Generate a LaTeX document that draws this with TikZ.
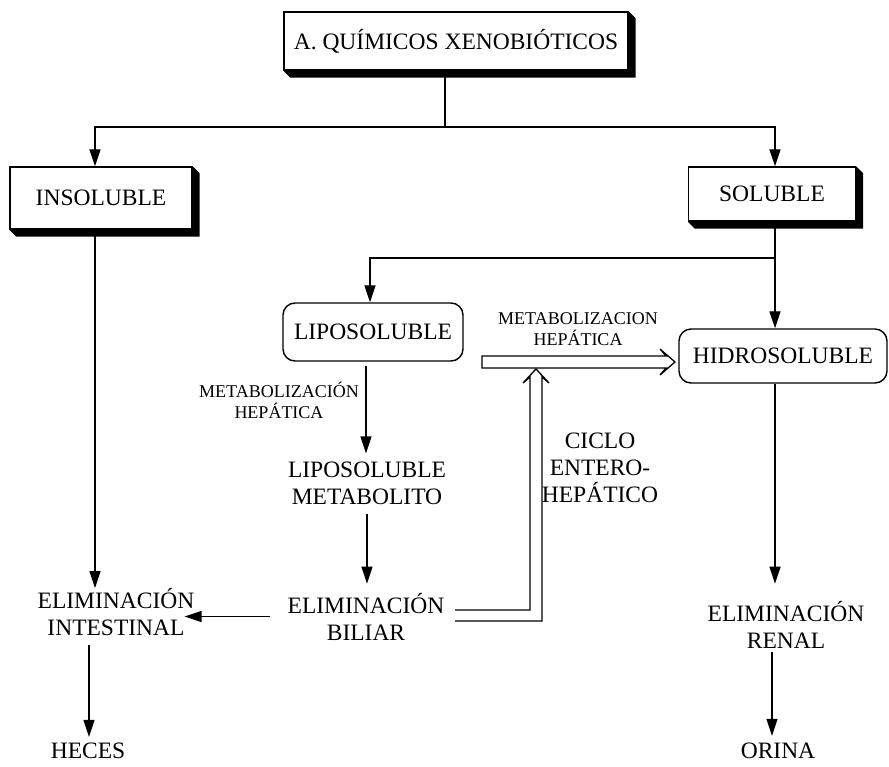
\documentclass[tikz,border=0pt]{standalone}
\usepackage{fontspec}
\setmainfont{Liberation Serif}
\usetikzlibrary{arrows.meta,calc}
\begin{document}
\begin{tikzpicture}[x=1pt,y=-1pt,
  big/.style={font=\fontsize{23.5}{27}\selectfont},
  small/.style={font=\fontsize{18}{20.5}\selectfont},
  txt/.style={big,align=center,inner sep=0pt},
  lbl/.style={small,align=center,inner sep=0pt},
  sbox/.style={draw,line width=1.4pt,fill=white,big,inner sep=0pt},
  rbox/.style={draw,line width=1.4pt,rounded corners=12pt,big,inner sep=0pt},
  plain/.style={line width=1.3pt},
  conn/.style={line width=1.3pt,-{Triangle[length=17pt,width=11pt]}},
  hollow/.style={line width=1.3pt,fill=white,line join=miter},
]
\useasboundingbox (0,0) rectangle (889,766);

% black drop shadow on the lower right of a box
\newcommand\boxshadow[1]{%
  \fill (#1.south west) -- ++(7,7) -- ($(#1.south east)+(7,7)$)
     -- ($(#1.north east)+(7,7)$) -- (#1.north east) -- (#1.south east) -- cycle;}

% boxes
\node[sbox,minimum width=344pt,minimum height=58pt] (top) at (456,41) {A. QUÍMICOS XENOBIÓTICOS};
\boxshadow{top}
\node[sbox,minimum width=182pt,minimum height=62pt] (insol) at (101,198) {INSOLUBLE};
\boxshadow{insol}
\node[sbox,minimum width=167pt,minimum height=54pt] (sol) at (772,194) {SOLUBLE};
\boxshadow{sol}
\node[rbox,minimum width=180pt,minimum height=58pt] (lipo) at (373,332) {LIPOSOLUBLE};
\node[rbox,minimum width=208pt,minimum height=54pt] (hidro) at (783,356) {HIDROSOLUBLE};

% plain text nodes
\node[txt] (metab) at (367,483) {LIPOSOLUBLE\\METABOLITO};
\node[txt] (bil) at (366,616.5) {ELIMINACIÓN\\BILIAR};
\node[txt] (intest) at (116,612) {ELIMINACIÓN\\INTESTINAL};
\node[txt] (renal) at (786,624.5) {ELIMINACIÓN\\RENAL};
\node[txt] (heces) at (88,751) {HECES};
\node[txt] (orina) at (778,751) {ORINA};
\node[txt] (ciclo) at (600,468) {CICLO\\ENTERO-\\HEPÁTICO};
\node[lbl] (metup) at (578,329) {METABOLIZACION\\HEPÁTICA};
\node[lbl] (metleft) at (279,400.5) {METABOLIZACIÓN\\HEPÁTICA};

% top split
\coordinate (split) at (445,127);
\draw[plain] (split |- top.south) -- (split);
\draw[conn] (split) -| ([xshift=-6pt]insol.north);
\draw[conn] (split) -| ([xshift=3pt]sol.north);

% soluble fork
\coordinate (fork) at (775,258);
\draw[conn] (fork |- sol.south) -- (fork |- hidro.north);
\draw[conn] (fork) -| ([xshift=-3pt]lipo.north);

% liposoluble chain
\draw[conn,shorten <=4pt,shorten >=8pt] ([xshift=-7pt]lipo.south) -- ([xshift=-7pt]lipo.south |- metab.north);
\draw[conn,shorten <=9pt,shorten >=9pt] (metab.south) -- (metab.south |- bil.north);
\draw[conn] ([xshift=-17pt]bil.west) -- ([xshift=-10pt]intest.east |- bil.west);

% insoluble chain
\draw[conn] ([xshift=-6pt]insol.south) -- ([xshift=-6pt]insol.south |- intest.north);
\draw[conn,shorten <=9pt,shorten >=6pt] ([xshift=1pt]heces.north |- intest.south) -- ([xshift=1pt]heces.north);

% hidrosoluble chain
\draw[conn,shorten >=17pt] ([xshift=-8pt]hidro.south) -- ([xshift=-8pt]hidro.south |- renal.north);
\draw[conn,shorten <=4pt,shorten >=7pt] ([xshift=-6pt]orina.north |- renal.south) -- ([xshift=-6pt]orina.north);

% hollow arrow: liposoluble -> hidrosoluble
\coordinate (ha) at (482,362);
\coordinate (hb) at (675,362);
\draw[hollow] ($(ha)+(0,-6)$) -- ($(hb)+(-9,-6)$) -- ($(hb)+(-15,-13)$) -- (hb)
  -- ($(hb)+(-15,13)$) -- ($(hb)+(-9,6)$) -- ($(ha)+(0,6)$) -- cycle;

% double-line arrow: enterohepatic cycle
\coordinate (ca) at (455,615.5);
\coordinate (cb) at (536,369);
\draw[plain,line join=miter] ($(ca)+(0,-5.5)$) -- ($(cb |- ca)+(-6,-5.5)$) -- ($(cb)+(-6,8)$)
  -- ($(cb)+(-13,14)$) -- (cb) -- ($(cb)+(13,14)$) -- ($(cb)+(6,8)$)
  -- ($(cb |- ca)+(6,5.5)$) -- ($(ca)+(0,5.5)$);
\end{tikzpicture}
\end{document}
